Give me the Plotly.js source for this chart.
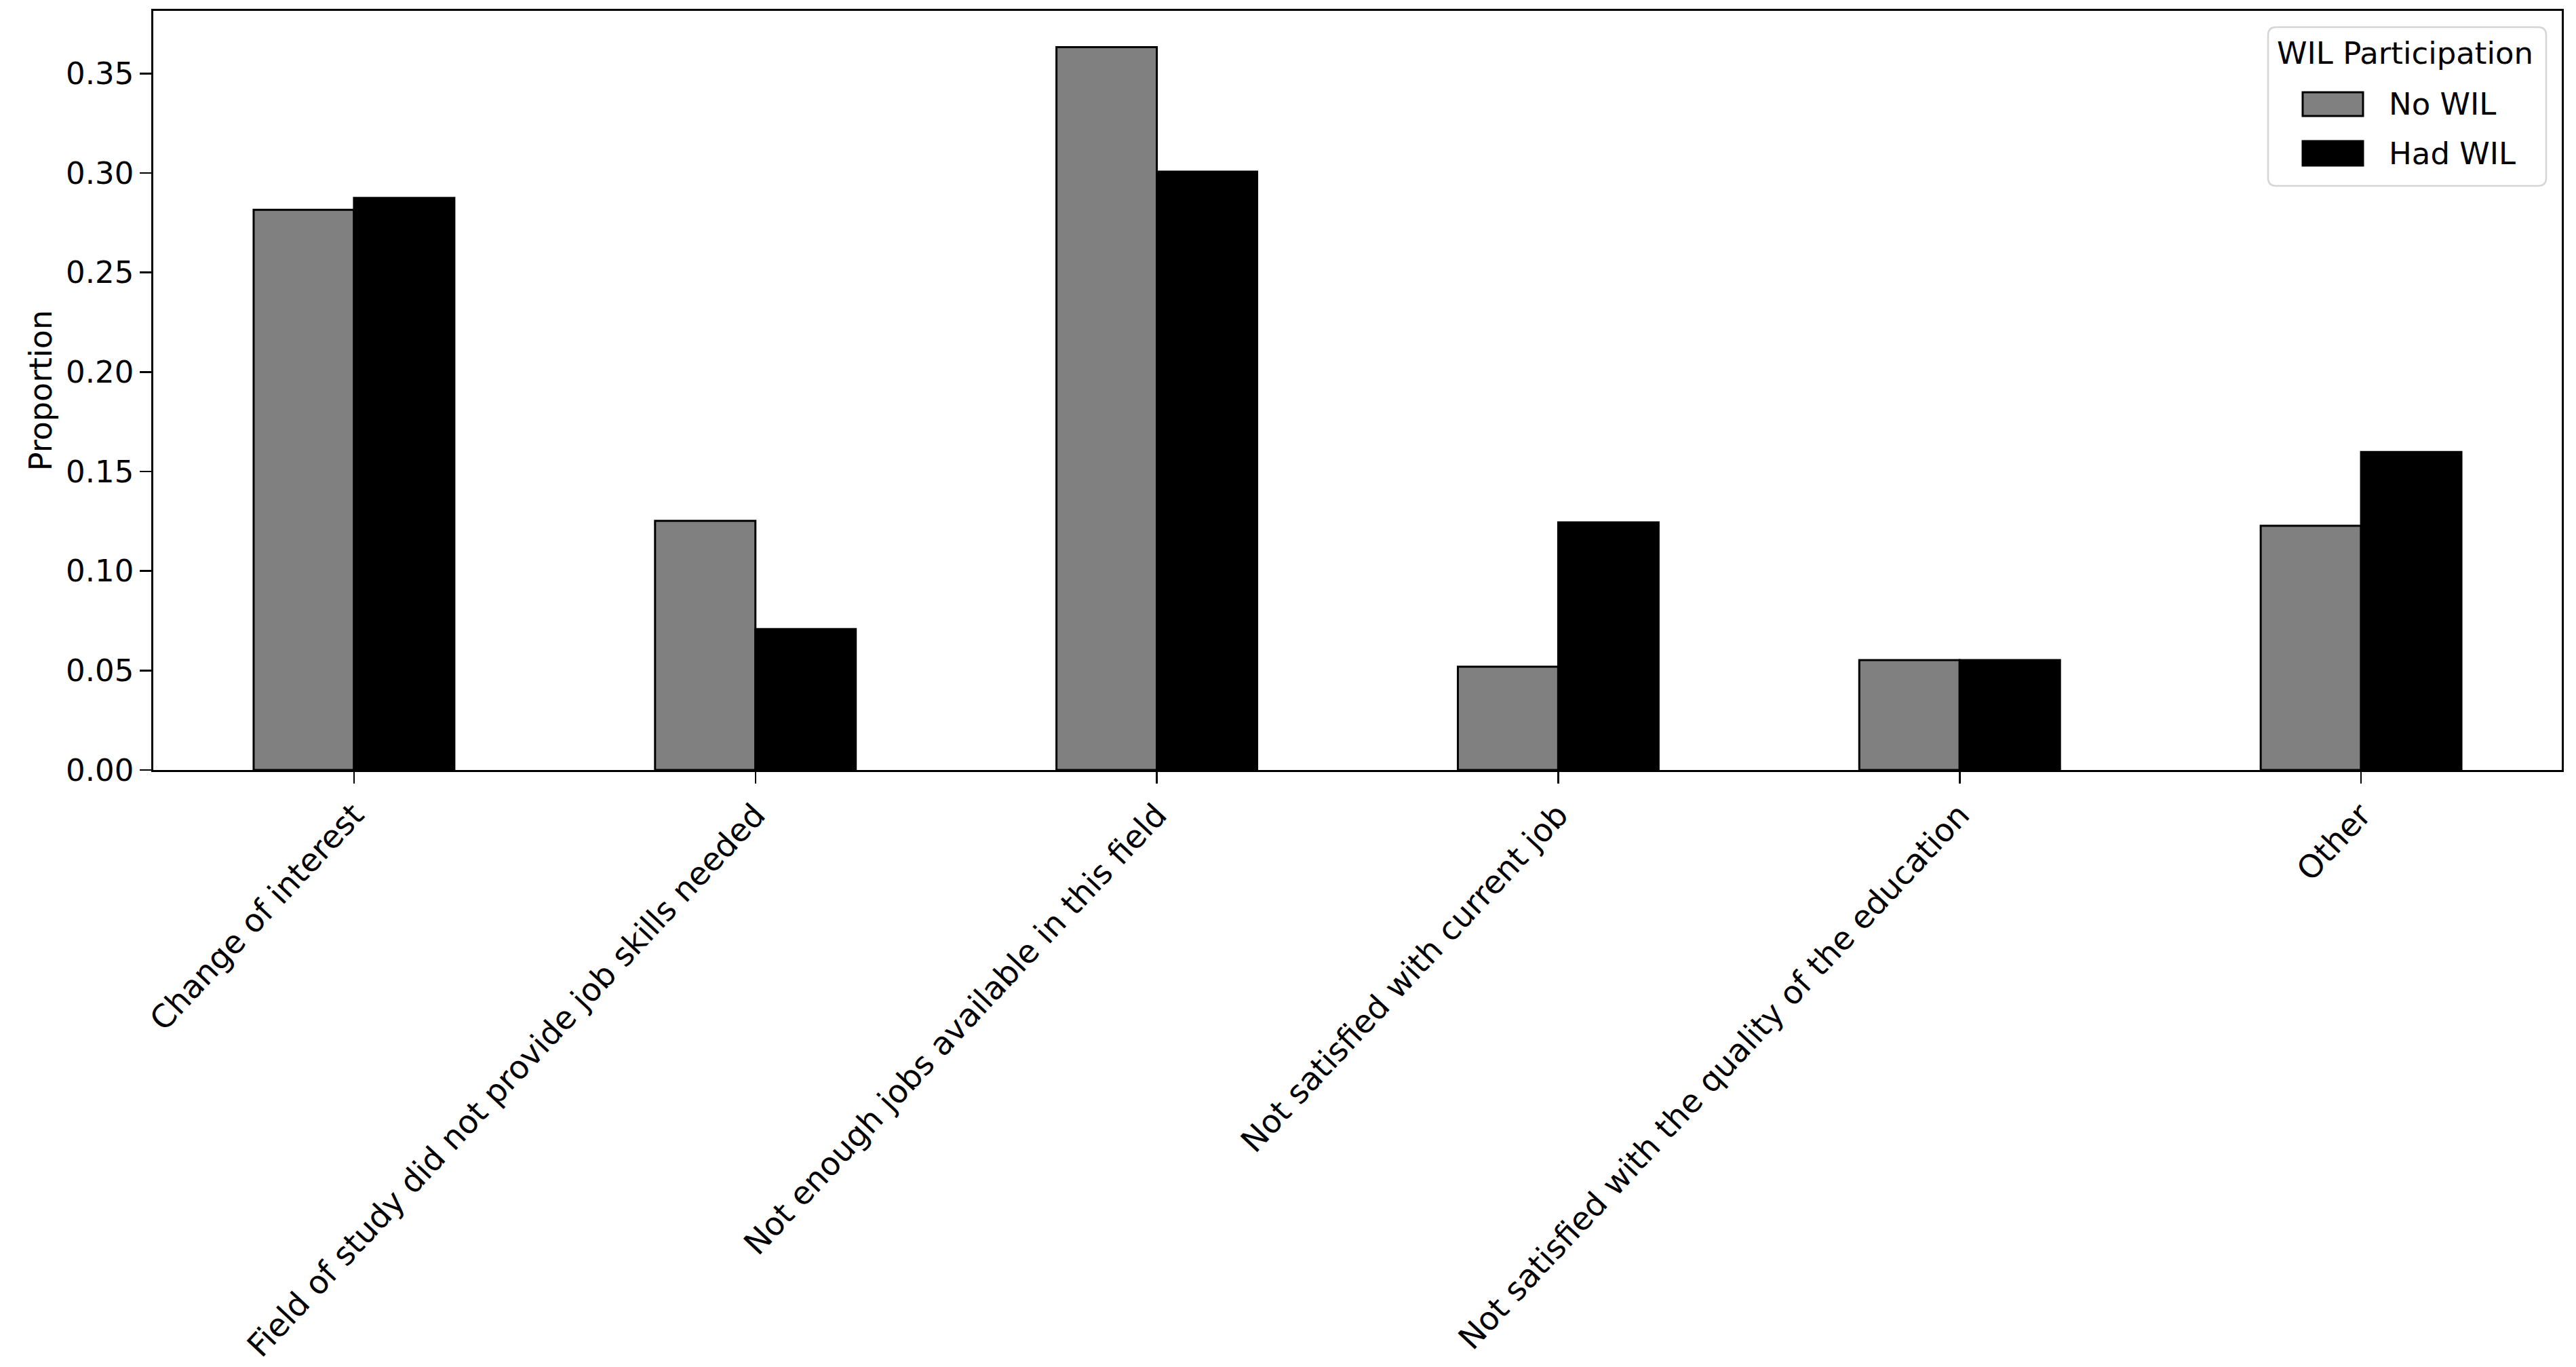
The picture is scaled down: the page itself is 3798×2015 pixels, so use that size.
<!DOCTYPE html>
<html>
<head>
<meta charset="utf-8">
<script src="https://cdn.plot.ly/plotly-3.0.1.min.js"></script>
<style>
  html, body { margin: 0; padding: 0; background: #ffffff; }
  #chart { width: 3798px; height: 2015px; }
</style>
</head>
<body>
<div id="chart"></div>
<script>
// ---- Data ----
const categories = [
  "Change of interest",
  "Field of study did not provide job skills needed",
  "Not enough jobs available in this field",
  "Not satisfied with current job",
  "Not satisfied with the quality of the education",
  "Other"
];
const noWIL  = [0.2815, 0.1252, 0.3633, 0.0519, 0.0552, 0.1227];
const hadWIL = [0.2875, 0.0708, 0.3007, 0.1244, 0.0552, 0.1598];
const seriesNames = ["No WIL", "Had WIL"];
const legendTitle = "WIL Participation";
const yTitle = "Proportion";

// ---- Layout geometry (pixels) ----
const W = 3798, H = 2015;
const plotL = 226, plotR = 3777, plotT = 16, plotB = 1135;
const px2x = px => (px - plotL) / (plotR - plotL);
const py2y = py => (plotB - py) / (plotB - plotT);

const FONT = "DejaVu Sans, Liberation Sans, sans-serif";
const FS = 45;

const traces = [
  {
    type: "bar", name: seriesNames[0], x: categories, y: noWIL,
    marker: { color: "#808080", line: { color: "#000000", width: 3 } },
    showlegend: false, hoverinfo: "x+y"
  },
  {
    type: "bar", name: seriesNames[1], x: categories, y: hadWIL,
    marker: { color: "#000000", line: { color: "#000000", width: 3 } },
    showlegend: false, hoverinfo: "x+y"
  }
];

// custom legend (matplotlib style)
const legBox = { x0: 3344, x1: 3754, y0: 40, y1: 274, r: 12 };
const swatches = [
  { x0: 3395, x1: 3484, y0: 136, y1: 171, color: "#808080", label: seriesNames[0], ty: 154 },
  { x0: 3395, x1: 3484, y0: 208, y1: 244, color: "#000000", label: seriesNames[1], ty: 226 }
];

function roundedRectPath(b) {
  const X = px2x, Y = py2y, r = b.r;
  return "M " + X(b.x0 + r) + "," + Y(b.y0) +
    " L " + X(b.x1 - r) + "," + Y(b.y0) +
    " Q " + X(b.x1) + "," + Y(b.y0) + " " + X(b.x1) + "," + Y(b.y0 + r) +
    " L " + X(b.x1) + "," + Y(b.y1 - r) +
    " Q " + X(b.x1) + "," + Y(b.y1) + " " + X(b.x1 - r) + "," + Y(b.y1) +
    " L " + X(b.x0 + r) + "," + Y(b.y1) +
    " Q " + X(b.x0) + "," + Y(b.y1) + " " + X(b.x0) + "," + Y(b.y1 - r) +
    " L " + X(b.x0) + "," + Y(b.y0 + r) +
    " Q " + X(b.x0) + "," + Y(b.y0) + " " + X(b.x0 + r) + "," + Y(b.y0) + " Z";
}

const shapes = [
  {
    type: "path", xref: "paper", yref: "paper", layer: "above",
    path: roundedRectPath(legBox),
    fillcolor: "rgba(255,255,255,0.8)", line: { color: "#d5d5d5", width: 2.5 }
  }
];
const annotations = [
  {
    xref: "paper", yref: "paper", x: px2x(3546), y: py2y(78),
    text: legendTitle, showarrow: false, xanchor: "center", yanchor: "middle",
    font: { family: FONT, size: FS, color: "#000000" }
  }
];
swatches.forEach(s => {
  shapes.push({
    type: "rect", xref: "paper", yref: "paper", layer: "above",
    x0: px2x(s.x0), x1: px2x(s.x1), y0: py2y(s.y1), y1: py2y(s.y0),
    fillcolor: s.color, line: { color: "#000000", width: 3 }
  });
  annotations.push({
    xref: "paper", yref: "paper", x: px2x(3520), y: py2y(s.ty),
    text: s.label, showarrow: false, xanchor: "left", yanchor: "middle",
    font: { family: FONT, size: FS, color: "#000000" }
  });
});

const layout = {
  width: W, height: H,
  paper_bgcolor: "#ffffff", plot_bgcolor: "#ffffff",
  margin: { l: plotL, r: W - plotR, t: plotT, b: H - plotB, pad: 0 },
  barmode: "group", bargap: 0.5, bargroupgap: 0,
  font: { family: FONT, size: FS, color: "#000000" },
  showlegend: false,
  xaxis: {
    type: "category", range: [-0.5, 5.5], automargin: false,
    showline: true, linecolor: "#000000", linewidth: 2.7, mirror: true,
    ticks: "outside", ticklen: 17, tickwidth: 2.5, tickcolor: "#000000",
    tickangle: -47, showgrid: false, zeroline: false,
    tickfont: { family: FONT, size: 47, color: "#000000" }
  },
  yaxis: {
    range: [0, 0.3815], automargin: false, dtick: 0.05, tick0: 0, tickformat: ".2f",
    showline: true, linecolor: "#000000", linewidth: 2.7, mirror: true,
    ticks: "outside", ticklen: 17, tickwidth: 2.5, tickcolor: "#000000",
    showgrid: false, zeroline: false,
    tickfont: { family: FONT, size: FS, color: "#000000" },
    title: { text: yTitle, standoff: 6, font: { family: FONT, size: 46, color: "#000000" } }
  },
  shapes: shapes,
  annotations: annotations
};

Plotly.newPlot("chart", traces, layout, { displayModeBar: false, staticPlot: true });
</script>
</body>
</html>
